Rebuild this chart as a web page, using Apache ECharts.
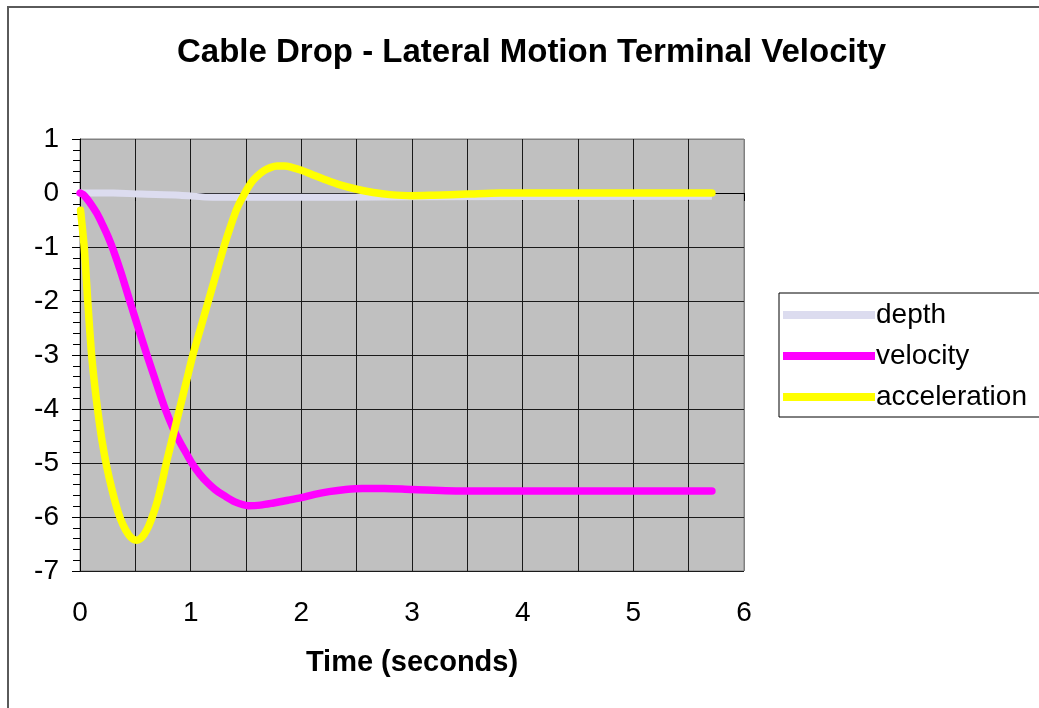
<!DOCTYPE html>
<html>
<head>
<meta charset="utf-8">
<title>Cable Drop - Lateral Motion Terminal Velocity</title>
<script src="https://cdn.jsdelivr.net/npm/echarts@6/dist/echarts.min.js"></script>
<style>
  html, body { margin: 0; padding: 0; background: #fff; }
  #chart-container { width: 1039px; height: 708px; }
</style>
</head>
<body>
<div id="chart-container"></div>
<script>
// values (time in seconds)
var depthTime = [0, 0.3, 0.55, 0.9, 1.2, 2.4, 3.0, 5.71];
var depthValue = [0, 0, -0.02, -0.04, -0.08, -0.08, -0.07, -0.06];

var velocityTime = [0, 0.03, 0.06, 0.1, 0.15, 0.2, 0.25, 0.3, 0.37, 0.45, 0.53, 0.61, 0.69, 0.77, 0.84, 0.9, 0.96, 1.01, 1.08, 1.15, 1.22, 1.3, 1.4, 1.52, 1.63, 1.75, 1.88, 2.0, 2.12, 2.25, 2.4, 2.55, 2.75, 3.0, 3.5, 5.71];
var velocityValue = [0, -0.03, -0.1, -0.21, -0.37, -0.57, -0.79, -1.05, -1.47, -2.0, -2.52, -3.03, -3.52, -4.0, -4.35, -4.6, -4.82, -5.0, -5.2, -5.36, -5.49, -5.6, -5.72, -5.79, -5.78, -5.74, -5.69, -5.64, -5.58, -5.53, -5.49, -5.47, -5.47, -5.49, -5.52, -5.52];

var accelTime = [0.005, 0.02, 0.04, 0.07, 0.105, 0.135, 0.165, 0.2, 0.24, 0.29, 0.34, 0.39, 0.44, 0.48, 0.51, 0.54, 0.58, 0.62, 0.66, 0.7, 0.74, 0.78, 0.84, 0.9, 0.96, 1.02, 1.09, 1.16, 1.23, 1.3, 1.36, 1.42, 1.49, 1.55, 1.6, 1.66, 1.72, 1.78, 1.85, 1.92, 2.0, 2.1, 2.2, 2.35, 2.5, 2.65, 2.8, 3.0, 3.2, 3.5, 3.8, 4.5, 5.71];
var accelValue = [-0.32, -0.62, -1.05, -2.0, -3.0, -3.6, -4.1, -4.6, -5.05, -5.5, -5.88, -6.15, -6.33, -6.41, -6.43, -6.41, -6.32, -6.17, -5.96, -5.7, -5.37, -5.0, -4.5, -4.0, -3.5, -3.0, -2.5, -2.0, -1.5, -1.0, -0.62, -0.28, 0, 0.2, 0.31, 0.41, 0.47, 0.5, 0.5, 0.47, 0.42, 0.34, 0.26, 0.15, 0.07, 0.01, -0.03, -0.05, -0.04, -0.02, 0, 0, 0];

var seriesNames = ["depth", "velocity", "acceleration"];
var colors = ["#dcdcef", "#ff00ff", "#ffff00"];

function pairs(xs, ys) {
    var out = [];
    for (var i = 0; i < xs.length; i++) out.push([xs[i], ys[i]]);
    return out;
}

// grid lines are black, the last one (plot edge) is grey like the frame
function gridColors(n) {
    var c = [];
    for (var i = 0; i < n - 1; i++) c.push("#1a1a1a");
    c.push("#808080");
    return c;
}

var dom = document.getElementById("chart-container");
var myChart = echarts.init(dom, null, { renderer: "canvas" });
var font = "Liberation Sans, Arial, sans-serif";

var option = {
    animation: false,
    color: colors,
    title: {
        text: "Cable Drop - Lateral Motion Terminal Velocity",
        left: 172,
        top: 31,
        textStyle: { fontFamily: font, fontSize: 33, fontWeight: "bold", color: "#000" }
    },
    graphic: [{
        type: "rect",
        z: -10,
        shape: { x: 8, y: 7, width: 1100, height: 800 },
        style: { fill: null, stroke: "#5a5a5a", lineWidth: 2 }
    }],
    legend: {
        orient: "vertical",
        left: 779,
        top: 293,
        padding: [8, 14, 6, 4],
        icon: "rect",
        itemWidth: 92,
        itemHeight: 8,
        itemGap: 13,
        borderColor: "#000",
        borderWidth: 1,
        backgroundColor: "#fff",
        textStyle: { fontFamily: font, fontSize: 28, color: "#000", padding: [0, 0, 0, -4] },
        data: seriesNames
    },
    grid: {
        left: 80,
        top: 139,
        width: 664,
        height: 432,
        show: true,
        backgroundColor: "#c0c0c0",
        borderColor: "#808080",
        borderWidth: 1
    },
    xAxis: {
        type: "value",
        min: 0,
        max: 6,
        interval: 0.5,
        name: "Time (seconds)",
        nameLocation: "middle",
        nameGap: 77,
        nameTextStyle: { fontFamily: font, fontSize: 29, fontWeight: "bold", color: "#000" },
        axisLine: { show: true, lineStyle: { color: "#000", width: 1 } },
        axisTick: { show: true, inside: false, length: 8, lineStyle: { color: "#000" } },
        axisLabel: {
            margin: 28,
            fontFamily: font, fontSize: 28, color: "#000",
            formatter: function (v) { return v % 1 === 0 ? String(v) : ""; }
        },
        splitLine: { show: true, lineStyle: { color: gridColors(13), width: 1 } }
    },
    yAxis: {
        type: "value",
        min: -7,
        max: 1,
        interval: 1,
        axisLine: { show: true, lineStyle: { color: "#000", width: 1 } },
        axisTick: { show: true, inside: false, length: 8, lineStyle: { color: "#000" } },
        minorTick: { show: true, splitNumber: 5, length: 7, lineStyle: { color: "#000" } },
        axisLabel: { margin: 21, fontFamily: font, fontSize: 28, color: "#000" },
        splitLine: { show: true, lineStyle: { color: gridColors(9), width: 1 } }
    },
    series: [
        {
            name: seriesNames[0],
            type: "line",
            data: pairs(depthTime, depthValue),
            showSymbol: false,
            symbol: "none",
            smooth: 0.3,
            lineStyle: { width: 7, color: colors[0] }
        },
        {
            name: seriesNames[1],
            type: "line",
            data: pairs(velocityTime, velocityValue),
            showSymbol: false,
            symbol: "none",
            smooth: 0.3,
            lineStyle: { width: 7.5, color: colors[1], cap: "round", join: "round" }
        },
        {
            name: seriesNames[2],
            type: "line",
            data: pairs(accelTime, accelValue),
            showSymbol: false,
            symbol: "none",
            smooth: 0.3,
            lineStyle: { width: 7.5, color: colors[2], cap: "round", join: "round" }
        }
    ]
};

myChart.setOption(option);
window.addEventListener("resize", myChart.resize);
</script>
</body>
</html>
